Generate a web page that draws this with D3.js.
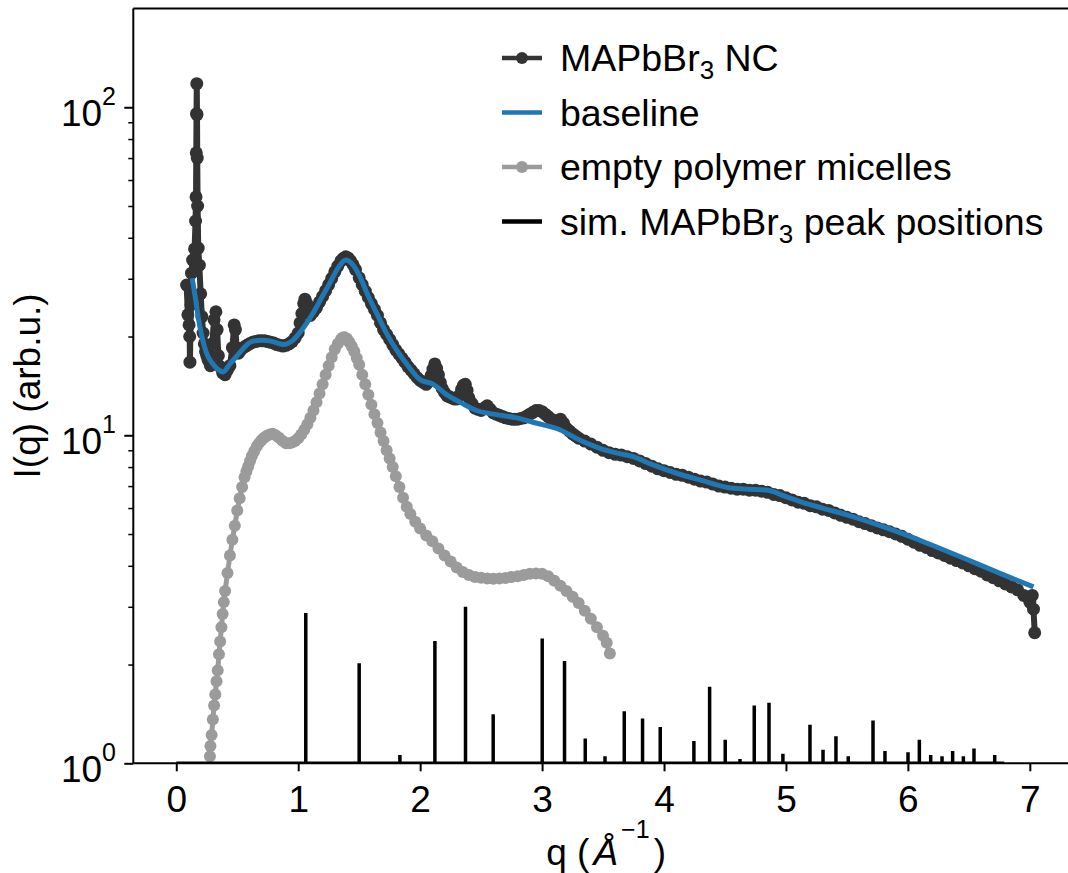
<!DOCTYPE html>
<html>
<head>
<meta charset="utf-8">
<script src="https://cdn.jsdelivr.net/npm/d3@7"></script>
<style>
  body { margin: 0; background: #fff; }
  svg { display: block; font-family: "Liberation Sans", Arial, sans-serif; }
</style>
</head>
<body>
<svg width="1068" height="873"></svg>
<script>
// MAPbBr3 NC measurement
const ncQ = [
  0.085, 0.095, 0.105, 0.11, 0.112, 0.12, 0.125, 0.134, 0.15, 0.158, 0.162, 0.164, 0.166, 0.168, 0.17, 0.172, 0.175, 0.18, 0.189, 0.2, 0.21, 0.22, 0.23, 0.24, 0.25, 0.26, 0.27, 0.28, 0.295, 0.31, 0.325, 0.335, 0.345, 0.36, 0.38, 0.4, 0.42, 0.44, 0.46, 0.475, 0.485, 0.495,
  0.51, 0.53, 0.56, 0.58, 0.6, 0.625, 0.65, 0.675, 0.7, 0.725, 0.75, 0.775, 0.8, 0.825, 0.85, 0.875, 0.9, 0.925, 0.95, 0.975, 1.0,
  1.015, 1.03, 1.045, 1.055, 1.068, 1.08, 1.1, 1.125, 1.15, 1.175, 1.2, 1.225, 1.25, 1.275, 1.3, 1.325, 1.35, 1.37, 1.39, 1.41, 1.43, 1.45, 1.47, 1.5,
  1.525, 1.55, 1.575, 1.6, 1.625, 1.65, 1.675, 1.7, 1.725, 1.75, 1.775, 1.8, 1.825, 1.85, 1.875, 1.9, 1.925, 1.95, 1.975, 2.0,
  2.025, 2.05, 2.07, 2.09, 2.105, 2.12, 2.135, 2.15, 2.165, 2.18, 2.2, 2.22, 2.24, 2.26, 2.28, 2.3, 2.32, 2.34, 2.355, 2.37, 2.385, 2.4, 2.425, 2.45, 2.475, 2.5,
  2.525, 2.55, 2.575, 2.6, 2.625, 2.65, 2.675, 2.7, 2.725, 2.75, 2.775, 2.8, 2.825, 2.85, 2.875, 2.9, 2.925, 2.95, 2.975, 3.0, 3.025, 3.05, 3.075, 3.1, 3.125, 3.15, 3.175, 3.2, 3.225, 3.25, 3.275, 3.3,
  3.35, 3.4, 3.45, 3.5, 3.55, 3.6, 3.65, 3.7, 3.75, 3.8, 3.85, 3.9, 3.95, 4.0, 4.05, 4.1, 4.15, 4.2, 4.25, 4.3, 4.35, 4.4, 4.45, 4.5, 4.55, 4.6, 4.65, 4.7, 4.75, 4.8, 4.85, 4.9, 4.95,
  5.0, 5.05, 5.1, 5.15, 5.2, 5.25, 5.3, 5.35, 5.4, 5.45, 5.5, 5.55, 5.6, 5.65, 5.7, 5.75, 5.8, 5.85, 5.9, 5.95, 6.0, 6.05, 6.1, 6.15,
  6.2, 6.25, 6.3, 6.35, 6.4, 6.45, 6.5, 6.55, 6.6, 6.65, 6.7, 6.75, 6.8, 6.85, 6.9, 6.95, 7.0, 7.02, 7.03, 7.04];
const ncI = [
  28.7, 23.3, 21.7, 20, 16.7, 25, 31.2, 34.2, 37, 45, 53.3, 72.6, 95.6, 118, 95, 70, 50, 37.2, 33, 27, 23, 20.5, 19, 18, 17.5, 17, 16.8, 16.3, 19, 22.5, 23.8, 21, 17.5, 16.2, 15.5, 15.3, 15.8, 16.3, 18.5, 21.7, 21, 18.5,
  17.8, 18.2, 18.6, 18.8, 19.0, 19.2, 19.3, 19.4, 19.4, 19.4, 19.3, 19.2, 19.1, 18.9, 18.8, 18.7, 18.8, 19.0, 19.3, 19.8, 20.5,
  22, 23.5, 25.2, 26.0, 25.3, 24.5, 23.2, 23.8, 24.5, 25.5, 26.5, 27.6, 28.8, 30.1, 31.5, 32.8, 34.0, 34.6, 35.0, 34.7, 34.0, 33.1, 32.0, 30.2,
  28.8, 27.5, 26.3, 25.2, 24.2, 23.2, 22.0, 21.0, 20.3, 19.6, 18.9, 18.2, 17.7, 17.2, 16.7, 16.2, 15.8, 15.4, 15.0, 14.7,
  14.5, 14.3, 14.6, 15.2, 15.9, 16.5, 16.0, 15.3, 14.5, 13.9, 13.5, 13.2, 13.1, 13.0, 12.9, 12.9, 13.2, 13.8, 14.2, 14.3, 13.7, 13.0, 12.5, 12.1, 12.0, 11.9,
  12.1, 12.3, 12.0, 11.7, 11.6, 11.5, 11.4, 11.3, 11.25, 11.2, 11.2, 11.2, 11.25, 11.3, 11.45, 11.6, 11.75, 11.9, 11.9, 11.8, 11.6, 11.4, 11.2, 11.0, 11.1, 11.2, 10.9, 10.5, 10.3, 10.1, 9.95, 9.8,
  9.6, 9.4, 9.2, 9.0, 8.85, 8.75, 8.7, 8.6, 8.5, 8.35, 8.2, 8.05, 7.9, 7.8, 7.7, 7.6, 7.55, 7.45, 7.35, 7.25, 7.2, 7.1, 7.0, 6.95, 6.9, 6.85, 6.85, 6.8, 6.8, 6.75, 6.7, 6.6, 6.55,
  6.45, 6.35, 6.25, 6.2, 6.1, 6.05, 5.95, 5.9, 5.8, 5.7, 5.62, 5.55, 5.45, 5.38, 5.3, 5.22, 5.15, 5.08, 5.0, 4.92, 4.82, 4.72, 4.62, 4.55,
  4.45, 4.38, 4.3, 4.22, 4.15, 4.08, 4.0, 3.92, 3.85, 3.75, 3.68, 3.6, 3.52, 3.45, 3.38, 3.25, 3.1, 3.25, 2.95, 2.5];

// fitted baseline
const baseQ = [0.13, 0.155, 0.179, 0.21, 0.248, 0.3, 0.35, 0.384, 0.44, 0.494, 0.55, 0.617, 0.7, 0.767, 0.83, 0.876, 0.958, 1.04, 1.122, 1.19,
  1.259, 1.33, 1.39, 1.45, 1.505, 1.57, 1.642, 1.72, 1.806, 1.9, 1.998, 2.107, 2.217, 2.33, 2.463, 2.6, 2.791, 2.95, 3.146, 3.3, 3.474, 3.6,
  3.747, 3.9, 4.103, 4.3, 4.568, 4.7, 4.842, 5.0, 5.115, 5.3, 5.5, 5.7, 5.935, 6.2, 6.48, 6.75, 7.03];
const baseI = [30.1, 26.5, 23.0, 20.0, 17.8, 16.5, 15.8, 15.6, 16.5, 17.4, 18.4, 19.3, 19.5, 19.4, 19.1, 18.9, 19.5, 21.2, 23.6, 26.2,
  29.1, 32.5, 34.2, 33.0, 30.5, 26.8, 23.6, 20.6, 18.2, 16.3, 14.8, 14.3, 13.3, 12.6, 11.9, 11.6, 11.3, 10.9, 10.4, 9.7, 9.12, 8.85,
  8.61, 8.15, 7.66, 7.3, 6.89, 6.85, 6.81, 6.5, 6.28, 6.0, 5.72, 5.42, 5.05, 4.62, 4.19, 3.8, 3.45];

// empty polymer micelles
const micQ = [
  0.276, 0.28, 0.29, 0.3, 0.31, 0.32, 0.33, 0.34, 0.35, 0.36, 0.37, 0.38, 0.39, 0.4, 0.42, 0.44, 0.46, 0.48,
  0.5, 0.52, 0.54, 0.56, 0.575, 0.59, 0.605, 0.62, 0.64, 0.66, 0.68, 0.7, 0.72, 0.74, 0.765, 0.79, 0.815, 0.84, 0.87, 0.9, 0.925, 0.95, 0.975, 1.0,
  1.025, 1.05, 1.075, 1.1, 1.125, 1.15, 1.175, 1.2, 1.225, 1.25, 1.275, 1.3, 1.325, 1.35, 1.365, 1.38, 1.4, 1.42, 1.44, 1.46, 1.48, 1.5,
  1.525, 1.55, 1.575, 1.6, 1.625, 1.65, 1.675, 1.7, 1.725, 1.75, 1.775, 1.8, 1.83, 1.86, 1.89, 1.92, 1.96, 2.0,
  2.05, 2.1, 2.15, 2.2, 2.25, 2.3, 2.35, 2.4, 2.45, 2.5, 2.55, 2.6, 2.65, 2.7, 2.75, 2.8, 2.85, 2.9, 2.95, 3.0,
  3.05, 3.1, 3.15, 3.2, 3.25, 3.3, 3.35, 3.4, 3.45, 3.5, 3.53, 3.556];
const micI = [
  1.05, 1.13, 1.22, 1.36, 1.5, 1.62, 1.78, 1.92, 2.15, 2.35, 2.6, 2.85, 3.1, 3.35, 3.8, 4.3, 4.8, 5.3,
  5.9, 6.43, 6.95, 7.45, 7.75, 8.05, 8.35, 8.65, 8.95, 9.25, 9.48, 9.68, 9.83, 9.95, 10.05, 10.1, 10.0, 9.85, 9.62, 9.45, 9.45, 9.5, 9.6, 9.8,
  10.05, 10.4, 10.8, 11.3, 11.9, 12.6, 13.4, 14.3, 15.3, 16.3, 17.3, 18.3, 19.0, 19.6, 19.85, 19.9, 19.7, 19.2, 18.65, 18.0, 17.2, 16.4,
  15.3, 14.3, 13.3, 12.4, 11.6, 10.9, 10.2, 9.6, 9.0, 8.5, 8.0, 7.5, 6.95, 6.45, 6.05, 5.75, 5.45, 5.2,
  4.95, 4.75, 4.52, 4.3, 4.12, 3.95, 3.83, 3.75, 3.7, 3.68, 3.66, 3.65, 3.66, 3.67, 3.7, 3.72, 3.75, 3.78, 3.79, 3.78,
  3.72, 3.6, 3.48, 3.35, 3.22, 3.08, 2.92, 2.76, 2.6, 2.45, 2.33, 2.16];

// simulated peak positions
const peakQ = [1.062, 1.50, 1.834, 2.121, 2.372, 2.599, 3.001, 3.184, 3.354, 3.516, 3.674, 3.824, 3.969, 4.245, 4.374, 4.502, 4.623, 4.74,
  4.861, 4.975, 5.197, 5.304, 5.41, 5.511, 5.714, 5.812, 6.001, 6.094, 6.187, 6.28, 6.367, 6.455, 6.542, 6.712];
const peakI = [2.87, 2.02, 1.06, 2.36, 3.0, 1.41, 2.40, 2.05, 1.19, 1.05, 1.44, 1.37, 1.29, 1.17, 1.71, 1.18, 1.03, 1.5,
  1.53, 1.07, 1.31, 1.10, 1.21, 1.05, 1.35, 1.09, 1.08, 1.18, 1.06, 1.05, 1.09, 1.05, 1.11, 1.06];
const peakRange = [0, 6.79];

const xTicks = [0, 1, 2, 3, 4, 5, 6, 7];
const yTicks = [1, 10, 100];
const yTickExp = ["0", "1", "2"];

const legendItems = ["MAPbBr3 NC", "baseline", "empty polymer micelles", "sim. MAPbBr3 peak positions"];

const svg = d3.select("svg");
const pLeft = 133.3, pRight = 1078.9, pTop = 8.5, pBottom = 763.3;
const fs = 37;

const x = d3.scaleLinear().domain([-0.3525, 7.4025]).range([pLeft, pRight]);
const y = d3.scaleLog().domain([1, 200]).range([pBottom, pTop]);

const dark = "#333333", grey = "#9b9b9b", blue = "#1f77b4";

svg.append("defs").append("clipPath").attr("id", "plot")
  .append("rect").attr("x", pLeft).attr("y", pTop).attr("width", pRight - pLeft).attr("height", pBottom - pTop);

const plot = svg.append("g").attr("clip-path", "url(#plot)");

const line = d3.line().x(d => x(d[0])).y(d => y(d[1]));

const nc = d3.zip(ncQ, ncI);
const base = d3.zip(baseQ, baseI);
const mic = d3.zip(micQ, micI);

// measured data: line + dots
plot.append("path").datum(nc).attr("d", line)
  .attr("fill", "none").attr("stroke", dark).attr("stroke-width", 6).attr("stroke-linejoin", "round");
plot.append("g").selectAll("circle").data(nc).enter().append("circle")
  .attr("cx", d => x(d[0])).attr("cy", d => y(d[1])).attr("r", 6.5).attr("fill", dark);

// baseline
plot.append("path").datum(base).attr("d", d3.line().curve(d3.curveMonotoneX).x(d => x(d[0])).y(d => y(d[1])))
  .attr("fill", "none").attr("stroke", blue).attr("stroke-width", 5).attr("stroke-linejoin", "round");

// micelles
plot.append("path").datum(mic).attr("d", line)
  .attr("fill", "none").attr("stroke", grey).attr("stroke-width", 5).attr("stroke-linejoin", "round");
plot.append("g").selectAll("circle").data(mic).enter().append("circle")
  .attr("cx", d => x(d[0])).attr("cy", d => y(d[1])).attr("r", 6).attr("fill", grey);

// peak sticks
plot.append("line")
  .attr("x1", x(peakRange[0])).attr("x2", x(peakRange[1]))
  .attr("y1", y(1)).attr("y2", y(1))
  .attr("stroke", "#000").attr("stroke-width", 3.5);
plot.append("g").selectAll("line").data(d3.zip(peakQ, peakI)).enter().append("line")
  .attr("x1", d => x(d[0])).attr("x2", d => x(d[0]))
  .attr("y1", y(1)).attr("y2", d => y(d[1]))
  .attr("stroke", "#000").attr("stroke-width", 3.5);

// X axis
const gx = svg.append("g")
  .attr("transform", `translate(0,${pBottom})`)
  .call(d3.axisBottom(x).tickValues(xTicks).tickSize(8).tickPadding(14).tickSizeOuter(0));
gx.select(".domain").remove();
gx.selectAll(".tick line").attr("stroke", "#000").attr("stroke-width", 2);
gx.selectAll(".tick text").attr("fill", "#000").style("font-size", fs + "px")
  .style("font-family", "'Liberation Sans', Arial, sans-serif");

// Y axis (major)
const gy = svg.append("g")
  .attr("transform", `translate(${pLeft},0)`)
  .call(d3.axisLeft(y).tickValues(yTicks).tickSize(9).tickFormat("").tickSizeOuter(0));
gy.select(".domain").remove();
gy.selectAll(".tick line").attr("stroke", "#000").attr("stroke-width", 2);

// Y axis (minor)
const minor = d3.range(2, 10).concat(d3.range(20, 100, 10));
const gym = svg.append("g")
  .attr("transform", `translate(${pLeft},0)`)
  .call(d3.axisLeft(y).tickValues(minor).tickSize(5).tickFormat("").tickSizeOuter(0));
gym.select(".domain").remove();
gym.selectAll(".tick line").attr("stroke", "#000").attr("stroke-width", 1.5);

// y tick labels as 10^n
yTicks.forEach((v, i) => {
  const t = svg.append("text")
    .attr("x", 116).attr("y", y(v) + 18.7)
    .attr("text-anchor", "end")
    .style("font-size", fs + "px");
  t.append("tspan").text("10");
  t.append("tspan").attr("dy", -21).style("font-size", "25px").text(yTickExp[i]);
});

// spines
svg.append("line").attr("x1", pLeft).attr("x2", pLeft).attr("y1", pTop).attr("y2", pBottom)
  .attr("stroke", "#000").attr("stroke-width", 2);
svg.append("line").attr("x1", pLeft).attr("x2", pRight).attr("y1", pBottom).attr("y2", pBottom)
  .attr("stroke", "#000").attr("stroke-width", 2);
svg.append("line").attr("x1", pLeft).attr("x2", pRight).attr("y1", pTop).attr("y2", pTop)
  .attr("stroke", "#000").attr("stroke-width", 2);
svg.append("line").attr("x1", pRight).attr("x2", pRight).attr("y1", pTop).attr("y2", pBottom)
  .attr("stroke", "#000").attr("stroke-width", 2);

// axis labels
const xl = svg.append("text")
  .attr("x", (pLeft + pRight) / 2).attr("y", 865)
  .attr("text-anchor", "middle")
  .style("font-size", fs + "px");
xl.append("tspan").text("q (");
xl.append("tspan").attr("dx", 4).style("font-style", "italic").text("Å");
xl.append("tspan").attr("dy", -27).attr("dx", 3).style("font-size", "25px").text("−1");
xl.append("tspan").attr("dy", 27).attr("dx", 4).text(")");

svg.append("text")
  .attr("transform", `translate(40,${(pTop + pBottom) / 2}) rotate(-90)`)
  .attr("text-anchor", "middle")
  .style("font-size", fs + "px")
  .text("I(q) (arb.u.)");

// Legend
const legend = svg.append("g").attr("class", "legend");
const legendStyle = [
  { color: dark, dot: true },
  { color: blue, dot: false },
  { color: grey, dot: true },
  { color: "#000", dot: false }
];

legendItems.forEach((label, i) => {
  const ly = 58 + i * 54.5;
  const s = legendStyle[i];
  legend.append("line")
    .attr("x1", 502).attr("x2", 542).attr("y1", ly).attr("y2", ly)
    .attr("stroke", s.color).attr("stroke-width", 4.5);
  if (s.dot) {
    legend.append("circle").attr("cx", 522).attr("cy", ly).attr("r", 6).attr("fill", s.color);
  }
  const t = legend.append("text")
    .attr("x", 560).attr("y", ly + 13)
    .style("font-size", "37.5px");
  const parts = label.split("MAPbBr3");
  if (parts.length > 1) {
    t.append("tspan").text(parts[0] + "MAPbBr");
    t.append("tspan").attr("dy", 8).style("font-size", "26px").text("3");
    t.append("tspan").attr("dy", -8).text(parts[1]);
  } else {
    t.text(label);
  }
});
</script>
</body>
</html>
